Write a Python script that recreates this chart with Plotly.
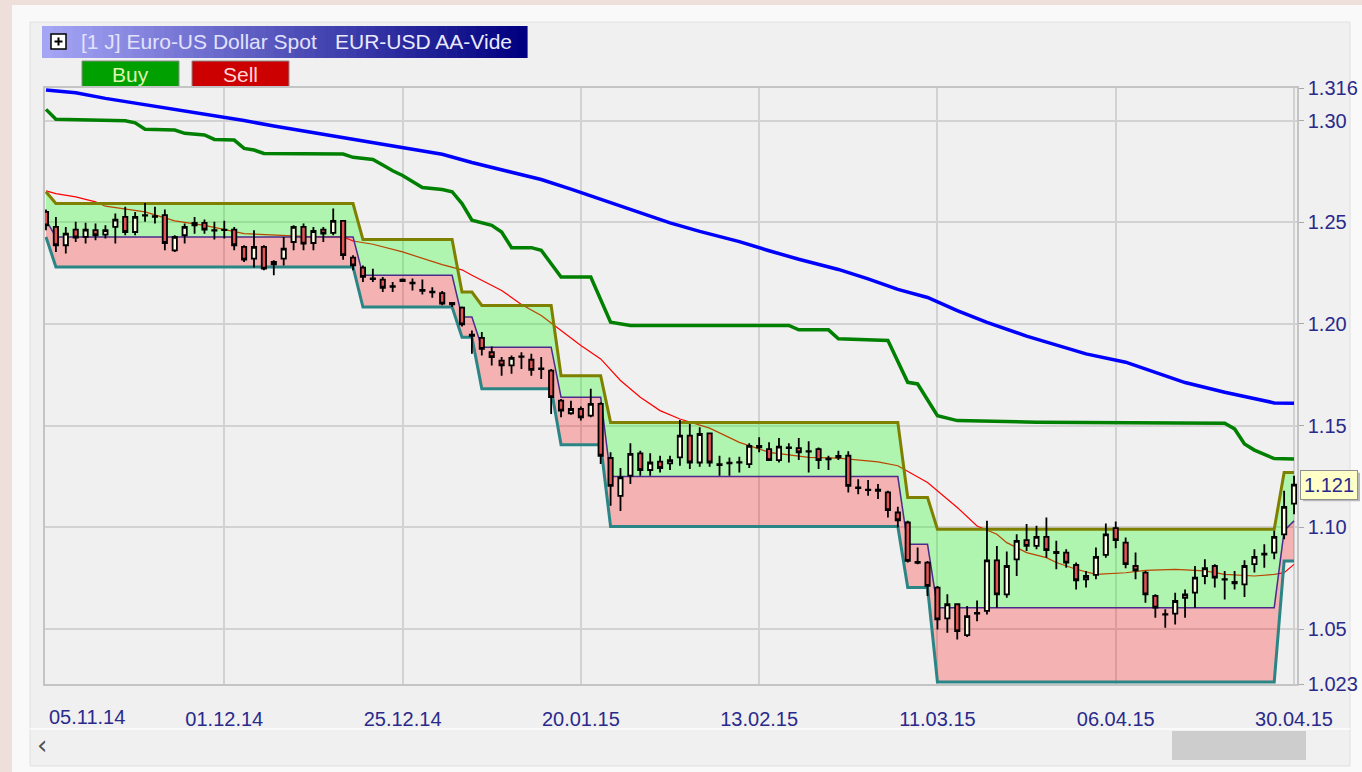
import plotly.graph_objects as go
import pandas as pd

# ---------------- data ----------------
dates = pd.bdate_range("2014-11-05", "2015-04-30").strftime("%d.%m.%y").tolist()

open_ = [1.2551,1.2477,1.2387,1.2464,1.2428,1.2461,1.2439,1.2477,1.2526,1.2452,
         1.2535,1.2530,1.2535,1.2362,1.2436,1.2497,1.2497,1.2461,1.2464,1.2464,
         1.2379,1.2321,1.2379,1.2293,1.2321,1.2403,1.2477,1.2398,1.2464,1.2448,
         1.2507,1.2326,1.2277,1.2224,1.2218,1.2186,1.2218,1.2203,1.2167,1.2159,
         1.2152,1.2103,1.2080,1.1947,1.1932,1.1861,1.1820,1.1796,1.1841,1.1824,
         1.1781,1.1771,1.1623,1.1561,1.1582,1.1549,1.1607,1.1341,1.1155,1.1254,
         1.1364,1.1282,1.1323,1.1315,1.1344,1.1451,1.1319,1.1462,1.1311,1.1315,
         1.1318,1.1311,1.1400,1.1385,1.1331,1.1393,1.1390,1.1375,1.1385,1.1338,
         1.1351,1.1352,1.1196,1.1186,1.1186,1.1172,1.1073,1.1024,1.0830,1.0827,
         1.0704,1.0553,1.0622,1.0470,1.0576,1.0589,1.0838,1.0671,1.0843,1.0937,
         1.0909,1.0953,1.0879,1.0876,1.0815,1.0745,1.0766,1.0865,1.0996,1.0925,
         1.0810,1.0778,1.0663,1.0574,1.0576,1.0654,1.0679,1.0761,1.0810,1.0746,
         1.0732,1.0720,1.0819,1.0866,1.0876,1.0966,1.1117]
high = [1.2563,1.2526,1.2477,1.2502,1.2497,1.2494,1.2485,1.2543,1.2576,1.2551,
        1.2595,1.2576,1.2563,1.2436,1.2494,1.2526,1.2513,1.2502,1.2507,1.2477,
        1.2387,1.2461,1.2387,1.2313,1.2428,1.2485,1.2494,1.2477,1.2477,1.2567,
        1.2510,1.2338,1.2288,1.2272,1.2231,1.2206,1.2223,1.2223,1.2218,1.2181,
        1.2162,1.2108,1.2086,1.1968,1.1960,1.1889,1.1837,1.1845,1.1861,1.1853,
        1.1837,1.1779,1.1631,1.1623,1.1594,1.1681,1.1615,1.1369,1.1292,1.1413,
        1.1377,1.1364,1.1352,1.1352,1.1528,1.1508,1.1492,1.1467,1.1352,1.1344,
        1.1347,1.1413,1.1443,1.1418,1.1439,1.1413,1.1439,1.1423,1.1393,1.1352,
        1.1377,1.1374,1.1237,1.1233,1.1213,1.1180,1.1101,1.1032,1.0901,1.0835,
        1.0712,1.0671,1.0625,1.0613,1.0641,1.1032,1.0909,1.0881,1.0966,1.1016,
        1.1008,1.1049,1.0934,1.0892,1.0827,1.0786,1.0901,1.1019,1.1029,1.0950,
        1.0876,1.0786,1.0671,1.0597,1.0679,1.0695,1.0810,1.0843,1.0819,1.0786,
        1.0786,1.0838,1.0892,1.0917,1.0983,1.1180,1.1254]
low = [1.2461,1.2354,1.2346,1.2403,1.2395,1.2411,1.2420,1.2395,1.2436,1.2436,
       1.2502,1.2494,1.2362,1.2354,1.2395,1.2444,1.2444,1.2415,1.2420,1.2362,
       1.2305,1.2277,1.2264,1.2239,1.2288,1.2362,1.2362,1.2362,1.2403,1.2436,
       1.2316,1.2264,1.2206,1.2206,1.2157,1.2157,1.2206,1.2165,1.2145,1.2129,
       1.2092,1.2083,1.1988,1.1853,1.1845,1.1796,1.1746,1.1755,1.1779,1.1746,
       1.1730,1.1557,1.1541,1.1554,1.1525,1.1541,1.1311,1.1106,1.1081,1.1213,
       1.1254,1.1254,1.1270,1.1282,1.1303,1.1287,1.1298,1.1298,1.1254,1.1254,
       1.1270,1.1292,1.1369,1.1328,1.1319,1.1319,1.1331,1.1270,1.1287,1.1282,
       1.1331,1.1172,1.1163,1.1155,1.1139,1.1048,1.0999,1.0827,1.0819,1.0663,
       1.0498,1.0482,1.0449,1.0461,1.0539,1.0572,1.0605,1.0654,1.0761,1.0884,
       1.0892,1.0851,1.0794,1.0802,1.0695,1.0704,1.0745,1.0851,1.0897,1.0799,
       1.0745,1.0630,1.0556,1.0507,1.0523,1.0556,1.0605,1.0720,1.0704,1.0646,
       1.0695,1.0658,1.0778,1.0802,1.0843,1.0942,1.1065]
close = [1.2485,1.2387,1.2444,1.2425,1.2464,1.2436,1.2461,1.2513,1.2452,1.2526,
         1.2533,1.2526,1.2398,1.2428,1.2477,1.2485,1.2464,1.2459,1.2462,1.2387,
         1.2316,1.2379,1.2272,1.2305,1.2370,1.2477,1.2395,1.2457,1.2444,1.2507,
         1.2338,1.2288,1.2231,1.2221,1.2178,1.2183,1.2211,1.2200,1.2163,1.2155,
         1.2100,1.2097,1.1998,1.1942,1.1878,1.1837,1.1796,1.1833,1.1838,1.1774,
         1.1778,1.1640,1.1574,1.1582,1.1541,1.1607,1.1352,1.1204,1.1246,1.1361,
         1.1282,1.1319,1.1292,1.1331,1.1451,1.1319,1.1459,1.1319,1.1306,1.1318,
         1.1321,1.1401,1.1393,1.1331,1.1397,1.1390,1.1369,1.1372,1.1331,1.1334,
         1.1344,1.1204,1.1193,1.1183,1.1180,1.1085,1.1035,1.0835,1.0825,1.0712,
         1.0548,1.0622,1.0490,1.0564,1.0580,1.0838,1.0671,1.0810,1.0934,1.0909,
         1.0953,1.0888,1.0874,1.0827,1.0740,1.0761,1.0855,1.0966,1.0937,1.0819,
         1.0789,1.0671,1.0605,1.0571,1.0638,1.0671,1.0753,1.0799,1.0753,1.0743,
         1.0725,1.0810,1.0855,1.0871,1.0953,1.1101,1.1210]

# channel (vertices at the bars where the levels change)
chan_idx = [0, 1, 31, 32, 41, 42, 43, 44, 51, 52, 56, 57, 86, 87, 89, 90, 124, 125, 126]
chan_upper = [1.2650, 1.2592, 1.2592, 1.2415, 1.2415, 1.2157, 1.2157, 1.2091, 1.2091, 1.1746,
              1.1746, 1.1516, 1.1516, 1.1147, 1.1147, 1.0991, 1.0991, 1.1270, 1.1270]
chan_mid = [1.2510, 1.2428, 1.2428, 1.2239, 1.2239, 1.2034, 1.2034, 1.1886, 1.1886, 1.1640,
            1.1640, 1.1250, 1.1250, 1.0917, 1.0917, 1.0605, 1.0605, 1.0983, 1.1032]
chan_lower = [1.2428, 1.2280, 1.2280, 1.2083, 1.2083, 1.1935, 1.1935, 1.1681, 1.1681, 1.1406,
              1.1406, 1.1004, 1.1004, 1.0704, 1.0704, 1.0240, 1.0240, 1.0835, 1.0835]

# long moving average (blue)
blue_idx = [0, 3, 6, 10, 13, 16, 20, 23, 26, 30, 33, 36, 40, 43, 46, 50, 53, 56, 60, 63,
            66, 70, 73, 76, 80, 83, 86, 89, 92, 95, 99, 102, 105, 109, 112, 115, 119, 122, 124, 126]
blue_val = [1.3150, 1.3137, 1.3109, 1.3078, 1.3055, 1.3029, 1.3000, 1.2973, 1.2948, 1.2917,
            1.2891, 1.2866, 1.2834, 1.2794, 1.2757, 1.2710, 1.2663, 1.2612, 1.2546, 1.2497,
            1.2455, 1.2405, 1.2360, 1.2318, 1.2268, 1.2222, 1.2170, 1.2130, 1.2066, 1.2008,
            1.1940, 1.1898, 1.1853, 1.1812, 1.1762, 1.1712, 1.1664, 1.1634, 1.1612, 1.1610]

# stepped average (dark green)
green_idx = [0, 1, 8, 9, 10, 13, 14, 16, 17, 19, 20, 21, 22, 30, 31, 33, 34, 35, 36, 38,
             40, 41, 42, 43, 45, 46, 47, 49, 50, 52, 55, 57, 59, 75, 76, 79, 80, 85, 87, 88,
             90, 92, 100, 119, 120, 121, 122, 124, 126]
green_val = [1.3055, 1.3006, 1.2999, 1.2989, 1.2957, 1.2953, 1.2937, 1.2929, 1.2907, 1.2904,
             1.2863, 1.2855, 1.2838, 1.2835, 1.2819, 1.2809, 1.2781, 1.2753, 1.2730, 1.2671,
             1.2661, 1.2650, 1.2592, 1.2510, 1.2485, 1.2452, 1.2375, 1.2375, 1.2362, 1.2231,
             1.2231, 1.2009, 1.1993, 1.1993, 1.1971, 1.1971, 1.1927, 1.1919, 1.1713, 1.1705,
             1.1549, 1.1525, 1.1517, 1.1512, 1.1484, 1.1410, 1.1380, 1.1338, 1.1336]

# short moving average (thin red)
ma_idx = [0, 1, 3, 5, 6, 10, 13, 16, 20, 23, 26, 30, 31, 33, 36, 40, 42, 43, 46, 48,
          50, 52, 54, 56, 58, 60, 62, 64, 67, 70, 73, 77, 80, 84, 86, 89, 92, 94, 96, 97,
          99, 101, 102, 104, 106, 109, 111, 114, 117, 119, 122, 124, 125, 126]
ma_val = [1.2654, 1.2641, 1.2625, 1.2600, 1.2579, 1.2551, 1.2507, 1.2485, 1.2444, 1.2436,
          1.2431, 1.2428, 1.2408, 1.2392, 1.2354, 1.2292, 1.2266, 1.2239, 1.2165, 1.2096,
          1.2042, 1.1968, 1.1894, 1.1828, 1.1722, 1.1640, 1.1574, 1.1533, 1.1488, 1.1418,
          1.1369, 1.1344, 1.1340, 1.1322, 1.1303, 1.1221, 1.1098, 1.1007, 1.0966, 1.0925,
          1.0876, 1.0851, 1.0827, 1.0794, 1.0769, 1.0777, 1.0789, 1.0794, 1.0786, 1.0769,
          1.0761, 1.0769, 1.0777, 1.0818]

first_date_label = "05.11.14"
x_tick_labels = ["01.12.14", "25.12.14", "20.01.15", "13.02.15", "11.03.15", "06.04.15", "30.04.15"]
y_tick_vals = [1.023, 1.05, 1.10, 1.15, 1.20, 1.25, 1.30, 1.316]
y_tick_text = ["1.023", "1.05", "1.10", "1.15", "1.20", "1.25", "1.30", "1.316"]

title_left = "[1 J] Euro-US Dollar Spot"
title_right = "EUR-USD AA-Vide"

# ---------------- geometry helpers ----------------
W, H = 1362, 772
def px(x):
    return x / W
def py(y):
    return 1 - y / H

FONT = "Liberation Sans, Arial, sans-serif"
NAVY = "#2A2A8C"
XR = [-0.1, 126.3]
YR = [1.023, 1.316]

def d(idx):
    return [dates[i] for i in idx]

fig = go.Figure()

fig.add_trace(go.Scatter(x=d(blue_idx), y=blue_val, mode="lines",
                         line=dict(color="#0000FF", width=3.5), hoverinfo="skip"))
fig.add_trace(go.Scatter(x=d(green_idx), y=green_val, mode="lines",
                         line=dict(color="#008000", width=3.5), hoverinfo="skip"))
fig.add_trace(go.Scatter(x=d(ma_idx), y=ma_val, mode="lines",
                         line=dict(color="#FF0000", width=1.2), hoverinfo="skip"))
# channel fills
fig.add_trace(go.Scatter(x=d(chan_idx), y=chan_lower, mode="lines",
                         line=dict(width=0, color="rgba(0,0,0,0)"), hoverinfo="skip"))
fig.add_trace(go.Scatter(x=d(chan_idx), y=chan_mid, mode="lines", fill="tonexty",
                         fillcolor="rgba(255,0,0,0.26)",
                         line=dict(width=0, color="rgba(0,0,0,0)"), hoverinfo="skip"))
fig.add_trace(go.Scatter(x=d(chan_idx), y=chan_upper, mode="lines", fill="tonexty",
                         fillcolor="rgba(0,255,0,0.27)",
                         line=dict(width=0, color="rgba(0,0,0,0)"), hoverinfo="skip"))
# channel lines
fig.add_trace(go.Scatter(x=d(chan_idx), y=chan_lower, mode="lines",
                         line=dict(color="#2B8585", width=3), hoverinfo="skip"))
fig.add_trace(go.Scatter(x=d(chan_idx), y=chan_mid, mode="lines",
                         line=dict(color="#4B2C8C", width=1.5), hoverinfo="skip"))
fig.add_trace(go.Scatter(x=d(chan_idx), y=chan_upper, mode="lines",
                         line=dict(color="#808000", width=3), hoverinfo="skip"))

# candles on an overlay axis so that they sit above lines and fills
fig.add_trace(go.Candlestick(x=dates, open=open_, high=high, low=low, close=close,
                             xaxis="x2", yaxis="y2", whiskerwidth=0,
                             increasing=dict(line=dict(color="black", width=1.8), fillcolor="#FFFFE6"),
                             decreasing=dict(line=dict(color="black", width=1.8), fillcolor="#E35555"),
                             hoverinfo="skip"))

# ---------------- shapes (window chrome) ----------------
shapes = []
shapes.append(dict(type="rect", xref="paper", yref="paper", x0=px(12), x1=px(1362), y0=py(772), y1=py(5),
                   fillcolor="#F9F9F9", line=dict(width=0), layer="below"))
shapes.append(dict(type="rect", xref="paper", yref="paper", x0=px(30), x1=px(1350), y0=py(766), y1=py(22),
                   fillcolor="#F0F0F0", line=dict(width=1, color="#E0E0E0"), layer="below"))
# title gradient bar
c_left, c_right = (165, 165, 245), (0, 0, 128)
n = 48
bx0, bx1 = 42, 527
for k in range(n):
    t = k / (n - 1)
    col = "rgb({},{},{})".format(*[int(round(a + (b - a) * t)) for a, b in zip(c_left, c_right)])
    shapes.append(dict(type="rect", xref="paper", yref="paper",
                       x0=px(bx0 + (bx1 - bx0) * k / n), x1=px(bx0 + (bx1 - bx0) * (k + 1) / n + 0.6),
                       y0=py(58), y1=py(26), fillcolor=col, line=dict(width=0), layer="below"))
# plus icon
shapes.append(dict(type="rect", xref="paper", yref="paper", x0=px(51), x1=px(66), y0=py(49), y1=py(34),
                   fillcolor="white", line=dict(width=1.5, color="black"), layer="above"))
shapes.append(dict(type="line", xref="paper", yref="paper", x0=px(54.5), x1=px(62.5), y0=py(41.5), y1=py(41.5),
                   line=dict(width=2, color="black"), layer="above"))
shapes.append(dict(type="line", xref="paper", yref="paper", x0=px(58.5), x1=px(58.5), y0=py(37.5), y1=py(45.5),
                   line=dict(width=2, color="black"), layer="above"))
# buy / sell buttons
shapes.append(dict(type="rect", xref="paper", yref="paper", x0=px(82), x1=px(179), y0=py(87), y1=py(61),
                   fillcolor="#00A000", line=dict(width=1, color="#8A8A8A"), layer="below"))
shapes.append(dict(type="rect", xref="paper", yref="paper", x0=px(192), x1=px(289), y0=py(87), y1=py(61),
                   fillcolor="#CC0000", line=dict(width=1, color="#8A8A8A"), layer="below"))
# scrollbar
shapes.append(dict(type="line", xref="paper", yref="paper", x0=px(30), x1=px(1350), y0=py(729), y1=py(729),
                   line=dict(width=2, color="#FAFAFA"), layer="below"))
shapes.append(dict(type="rect", xref="paper", yref="paper", x0=px(1172), x1=px(1306), y0=py(760), y1=py(731),
                   fillcolor="#CDCDCD", line=dict(width=0), layer="below"))
# price label shadow
shapes.append(dict(type="rect", xref="paper", yref="y", x0=px(1303), x1=px(1360),
                   y0=close[-1] - 16.5 / 2034, y1=close[-1] + 12 / 2034,
                   fillcolor="#B8B8B8", line=dict(width=0), layer="above"))

annotations = []
annotations.append(dict(text=first_date_label, xref="paper", yref="paper", x=px(47), y=py(717),
                        xanchor="left", yanchor="middle", showarrow=False,
                        font=dict(family=FONT, size=20, color=NAVY)))
annotations.append(dict(text=title_left, xref="paper", yref="paper", x=px(79), y=py(42),
                        xanchor="left", yanchor="middle", showarrow=False,
                        font=dict(family=FONT, size=21, color="#E2E2FF")))
annotations.append(dict(text=title_right, xref="paper", yref="paper", x=px(333), y=py(42),
                        xanchor="left", yanchor="middle", showarrow=False,
                        font=dict(family=FONT, size=21, color="#EAEAFF")))
annotations.append(dict(text="Buy", xref="paper", yref="paper", x=px(130.5), y=py(74),
                        xanchor="center", yanchor="middle", showarrow=False,
                        font=dict(family=FONT, size=21, color="#DDF5B0")))
annotations.append(dict(text="Sell", xref="paper", yref="paper", x=px(240.5), y=py(74),
                        xanchor="center", yanchor="middle", showarrow=False,
                        font=dict(family=FONT, size=21, color="#FFD6D6")))
annotations.append(dict(text="‹", xref="paper", yref="paper", x=px(42), y=py(745),
                        xanchor="center", yanchor="middle", showarrow=False,
                        font=dict(family="DejaVu Sans", size=26, color="#505050")))
annotations.append(dict(text="{:.3f}".format(close[-1]), xref="paper", yref="y", x=px(1300), y=close[-1],
                        xanchor="left", yanchor="middle", showarrow=False,
                        bgcolor="#FFFFC8", bordercolor="#909090", borderwidth=1, borderpad=3,
                        font=dict(family=FONT, size=20, color=NAVY)))

fig.update_layout(
    width=W, height=H, autosize=False, template="none",
    margin=dict(l=0, r=0, t=0, b=0, pad=0),
    paper_bgcolor="#EEDFDA", plot_bgcolor="#F0F0F0",
    showlegend=False, hovermode=False, boxgap=0.38,
    shapes=shapes, annotations=annotations,
    xaxis=dict(domain=[px(45), px(1297)], type="category", categoryorder="array", categoryarray=dates,
               range=XR, tickvals=x_tick_labels, ticktext=x_tick_labels,
               showgrid=True, gridcolor="#D2D2D2", gridwidth=1.5, zeroline=False,
               ticks="outside", ticklen=16, tickcolor="rgba(0,0,0,0)",
               tickfont=dict(family=FONT, size=20, color=NAVY),
               showline=True, linecolor="#C4C4C4", linewidth=1.5, mirror=True,
               automargin=False, fixedrange=True, rangeslider=dict(visible=False)),
    yaxis=dict(domain=[py(684), py(88)], range=YR, side="right",
               tickvals=y_tick_vals, ticktext=y_tick_text,
               showgrid=True, gridcolor="#D2D2D2", gridwidth=1.5, zeroline=False,
               ticks="outside", ticklen=5, tickcolor="#A8A8A8",
               tickfont=dict(family=FONT, size=20, color=NAVY),
               showline=True, linecolor="#C4C4C4", linewidth=1.5, mirror=True,
               automargin=False, fixedrange=True),
    xaxis2=dict(overlaying="x", type="category", categoryorder="array", categoryarray=dates,
                range=XR, visible=False, fixedrange=True, rangeslider=dict(visible=False)),
    yaxis2=dict(overlaying="y", range=YR, visible=False, fixedrange=True),
)

fig.write_html("out.html", config={"displayModeBar": False},
               post_script="document.body.style.margin='0';document.body.style.overflow='hidden';")
